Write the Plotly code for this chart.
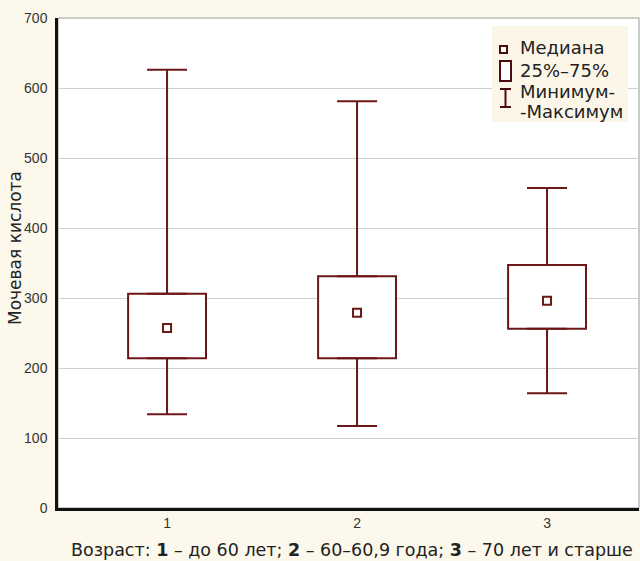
import plotly.graph_objects as go

# ---- data ----
groups = [1, 2, 3]
minimum = [134, 117, 164]
q1 = [214, 214, 256]
median = [257, 279, 296]
q3 = [306, 331, 347]
maximum = [626, 581, 457]

y_ticks = [0, 100, 200, 300, 400, 500, 600, 700]
x_labels = ["1", "2", "3"]
y_title = "Мочевая кислота"
x_title = "Возраст: <b>1</b> – до 60 лет; <b>2</b> – 60–60,9 года; <b>3</b> – 70 лет и старше"
legend_labels = ["Медиана", "25%–75%", "Минимум-", "-Максимум"]

MAROON = "#6b1717"
DARK = "#4a0c0c"
CREAM = "#fcf8ec"
W, H = 640, 561
L, R, T, B = 58, 639, 18, 508


def px(x):
    return (x - L) / (R - L)


def py(y):
    return (B - y) / (B - T)


fig = go.Figure()

# whiskers (upper and lower) as error bars
fig.add_trace(go.Scatter(
    x=groups, y=q3, mode="markers", marker=dict(size=1, color="rgba(0,0,0,0)"),
    error_y=dict(type="data", symmetric=False,
                 array=[mx - b for mx, b in zip(maximum, q3)],
                 arrayminus=[0, 0, 0], color=MAROON, thickness=2, width=20),
    showlegend=False, hoverinfo="skip"))
fig.add_trace(go.Scatter(
    x=groups, y=q1, mode="markers", marker=dict(size=1, color="rgba(0,0,0,0)"),
    error_y=dict(type="data", symmetric=False,
                 array=[0, 0, 0],
                 arrayminus=[b - mn for b, mn in zip(q1, minimum)],
                 color=MAROON, thickness=2, width=20),
    showlegend=False, hoverinfo="skip"))

# boxes 25%-75%
fig.add_trace(go.Bar(
    x=groups, y=[a - b for a, b in zip(q3, q1)], base=q1, width=0.41,
    marker=dict(color="white", line=dict(color=MAROON, width=2)),
    showlegend=False, hoverinfo="skip"))

# medians
fig.add_trace(go.Scatter(
    x=groups, y=median, mode="markers",
    marker=dict(symbol="square-open", size=8, color=MAROON, line=dict(width=2, color=MAROON)),
    showlegend=False, hoverinfo="skip"))

shapes = []
# top/right thin gray frame
shapes.append(dict(type="rect", xref="paper", yref="paper", x0=0, x1=1, y0=0, y1=1,
                   line=dict(color="#9a9a9a", width=1), layer="below"))
# legend box
shapes.append(dict(type="rect", xref="paper", yref="paper",
                   x0=px(492), x1=px(628), y0=py(122), y1=py(26),
                   fillcolor="#fbf6e8", line=dict(width=0)))
# legend: median symbol
shapes.append(dict(type="rect", xref="paper", yref="paper",
                   x0=px(500), x1=px(507), y0=py(53), y1=py(46),
                   line=dict(color=DARK, width=2), fillcolor="white"))
# legend: box symbol
shapes.append(dict(type="rect", xref="paper", yref="paper",
                   x0=px(500), x1=px(511), y0=py(81), y1=py(61),
                   line=dict(color=DARK, width=2), fillcolor="white"))
# legend: whisker symbol
shapes.append(dict(type="line", xref="paper", yref="paper",
                   x0=px(505.5), x1=px(505.5), y0=py(107), y1=py(89),
                   line=dict(color=DARK, width=2)))
shapes.append(dict(type="line", xref="paper", yref="paper",
                   x0=px(500), x1=px(511), y0=py(89), y1=py(89),
                   line=dict(color=DARK, width=2)))
shapes.append(dict(type="line", xref="paper", yref="paper",
                   x0=px(500), x1=px(511), y0=py(107), y1=py(107),
                   line=dict(color=DARK, width=2)))

annotations = []
for lab, yy in zip(legend_labels, [48, 70, 91, 112]):
    annotations.append(dict(text=lab, xref="paper", yref="paper", x=px(518), y=py(yy),
                            xanchor="left", yanchor="middle", showarrow=False,
                            font=dict(family="DejaVu Sans", size=18, color="#222222")))
annotations.append(dict(text=x_title, xref="paper", yref="paper", x=px(352), y=py(550),
                        xanchor="center", yanchor="middle", showarrow=False,
                        font=dict(family="DejaVu Sans", size=17.5, color="#222222")))
annotations.append(dict(text=y_title, xref="paper", yref="paper", x=px(15), y=py(248),
                        xanchor="center", yanchor="middle", showarrow=False, textangle=-90,
                        font=dict(family="DejaVu Sans", size=17, color="#222222")))

fig.update_layout(
    width=W, height=H,
    margin=dict(l=L, r=W - R, t=T, b=H - B),
    paper_bgcolor=CREAM, plot_bgcolor="white",
    shapes=shapes, annotations=annotations,
    showlegend=False,
    xaxis=dict(range=[0.426, 3.484], tickvals=groups, ticktext=x_labels,
               showgrid=False, zeroline=False,
               showline=True, linecolor="#111111", linewidth=2.5,
               ticks="", tickfont=dict(family="Liberation Sans", size=14, color="#333333")),
    yaxis=dict(range=[0, 700], tickvals=y_ticks, showgrid=True, gridcolor="#cfcfcf", gridwidth=1,
               zeroline=False, showline=True, linecolor="#111111", linewidth=2.5,
               ticks="", ticklabelstandoff=5,
               tickfont=dict(family="Liberation Sans", size=14, color="#333333")),
)

fig.write_html("out.html", config={"displayModeBar": False},
               post_script="document.body.style.margin='0px';document.body.style.padding='0px';")
